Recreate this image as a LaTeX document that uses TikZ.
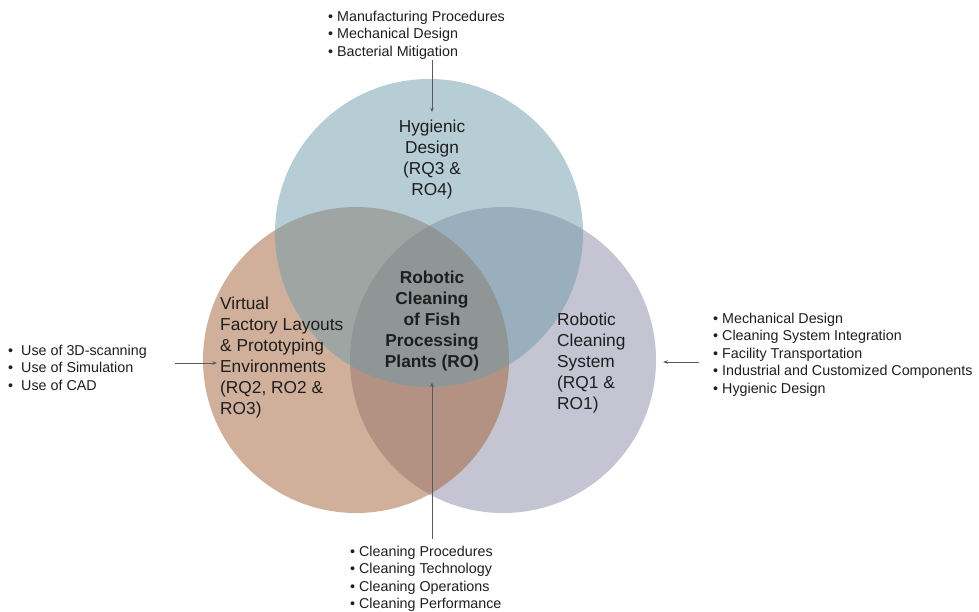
\documentclass[tikz,border=0pt]{standalone}
\usepackage{fontspec}
\setmainfont{Liberation Sans}
\usetikzlibrary{arrows.meta}

\definecolor{hygblue}{RGB}{111,155,171}
\definecolor{vfbrown}{RGB}{163,97,55}
\definecolor{rcgrey}{RGB}{137,137,165}
\definecolor{inktext}{RGB}{30,30,30}
\definecolor{connink}{RGB}{90,90,90}

\newcommand\itm{\textbullet\ }

\tikzset{
  venn/.style={circle, inner sep=0pt, minimum size=#1, fill opacity=0.5, draw=none},
  circlabel/.style={inner sep=0pt, text=inktext,
    font=\fontsize{17.3}{21}\selectfont},
  itemlist/.style={inner sep=0pt, text=inktext, align=left,
    font=\fontsize{14.3}{17.5}\selectfont},
  conn/.style={draw=connink, line width=1pt,
    -{Stealth[length=4.5pt,width=3.5pt]}},
}

\begin{document}
\begin{tikzpicture}[x=1pt, y=-1pt]
  \useasboundingbox (0,0) rectangle (979,612);

  % the three overlapping areas
  \node[venn=306pt, fill=rcgrey]  (rc)  at (503,360) {};
  \node[venn=306pt, fill=vfbrown] (vf)  at (356,360) {};
  \node[venn=308pt, fill=hygblue] (hd)  at (429,233) {};

  % area titles
  \node[circlabel, align=center, anchor=north] (hyg) at (432,119.6)
    {Hygienic\\Design\\(RQ3 \&\\RO4)};
  \node[circlabel, align=left, anchor=north west] (vfl) at (220,296.6)
    {Virtual\\Factory Layouts\\\& Prototyping\\Environments\\(RQ2, RO2 \&\\RO3)};
  \node[circlabel, align=left, anchor=north west] (rcl) at (557,312.6)
    {Robotic\\Cleaning\\System\\(RQ1 \&\\RO1)};
  \node[circlabel, align=center, anchor=north, font=\fontsize{17.3}{21}\selectfont\bfseries] (ro) at (432,270.6)
    {Robotic\\Cleaning\\of Fish\\Processing\\Plants (RO)};

  % contributing topics
  \node[itemlist, anchor=north west] (toplist) at (328,10.8)
    {\itm Manufacturing Procedures\\\itm Mechanical Design\\\itm Bacterial Mitigation};
  \node[itemlist, anchor=north west] (leftlist) at (8,344.8)
    {\textbullet\hspace{8pt}Use of 3D-scanning\\\textbullet\hspace{8pt}Use of Simulation\\\textbullet\hspace{8pt}Use of CAD};
  \node[itemlist, anchor=north west] (rightlist) at (713,312.8)
    {\itm Mechanical Design\\\itm Cleaning System Integration\\\itm Facility Transportation\\\itm Industrial and Customized Components\\\itm Hygienic Design};
  \node[itemlist, anchor=north west] (botlist) at (350,545.8)
    {\itm Cleaning Procedures\\\itm Cleaning Technology\\\itm Cleaning Operations\\\itm Cleaning Performance};

  % connectors
  \coordinate (lA) at (175,363);
  \coordinate (rA) at (699,362);
  \coordinate (bA) at (432,539);

  \draw[conn, shorten >=7.5pt] (toplist.south -| hyg.north) -- (hyg.north);
  \draw[conn, shorten >=3pt] (lA) -- (lA -| vfl.west);
  \draw[conn, shorten >=7pt] (rA) -- (rA -| rc.east);
  \draw[conn, shorten >=11.4pt] (bA) -- (bA |- ro.south);
\end{tikzpicture}
\end{document}
